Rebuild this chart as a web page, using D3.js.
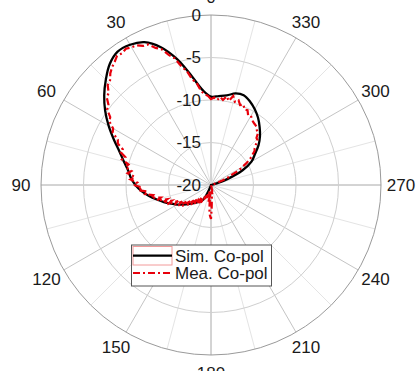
<!DOCTYPE html>
<html>
<head>
<meta charset="utf-8">
<script src="https://cdn.jsdelivr.net/npm/d3@7"></script>
<style>
  body { margin: 0; background: #fff; }
  text { font-family: "Liberation Sans", Arial, sans-serif; fill: #1a1a1a; }
</style>
</head>
<body>
<div id="polar"></div>
<script>
// angle tick labels (deg, counter-clockwise from top)
const angleTicks = [0, 30, 60, 90, 120, 150, 180, 210, 240, 270, 300, 330];
// radial ticks (dB)
const radialTicks = [-20, -15, -10, -5, 0];

// simulated co-pol, every 5 deg from 0 to 355
const simAngles = d3.range(0, 360, 5);
const simDb = [
  -9.6, -8.8, -7.0, -4.7, -2.75, -1.45, -0.95, -0.85, -1.45, -2.5,
  -3.6, -4.8, -6.1, -7.4, -8.55, -9.4, -10.1, -10.55, -11.1, -11.8,
  -12.6, -13.4, -14.1, -14.8, -15.4, -16.0, -16.5, -16.95, -17.3, -17.6,
  -17.85, -18.5, -19.8, -20, -20, -20, -20, -20, -20, -20,
  -20, -20, -20, -20, -20, -20, -20, -20, -20, -20,
  -20, -20, -20, -20, -20, -20, -20, -19.3, -17.9, -15.9,
  -14.5, -13.7, -12.7, -11.85, -11.1, -10.35, -9.7, -9.15, -8.75, -8.85,
  -9.3, -9.5
];

// measured co-pol, every 2 deg from 0 to 358
const meaAngles = d3.range(0, 360, 2);
const meaDb = [
  -9.9, -9.5, -9.3, -8.9, -7.9, -7.4, -6.3, -5.6, -4.5, -3.9,
  -3.0, -2.6, -1.9, -1.8, -1.4, -1.3, -1.1, -1.3, -1.2, -1.6,
  -1.9, -2.3, -2.9, -3.1, -3.8, -4.0, -4.7, -4.9, -5.7, -5.9,
  -6.7, -6.9, -7.8, -8.0, -8.8, -8.7, -9.4, -9.1, -10.0, -9.7,
  -10.5, -10.1, -11.0, -10.5, -11.3, -10.9, -11.9, -11.4, -12.5, -12.2,
  -13.1, -12.8, -13.9, -13.4, -14.6, -14.0, -15.0, -14.4, -15.7, -15.0,
  -16.1, -15.4, -16.5, -15.8, -16.9, -16.3, -17.3, -16.6, -17.6, -16.9,
  -17.9, -17.2, -18.1, -17.4, -18.2, -17.6, -18.4, -18.0, -18.6, -18.2,
  -18.9, -18.4, -19.0, -18.6, -19.2, -18.8, -17.9, -19.1, -17.2, -16.4,
  -16.0, -17.5, -18.6, -19.3, -18.9, -19.6, -19.2, -19.8, -20, -20,
  -20, -20, -20, -20, -20, -20, -20, -20, -20, -20,
  -20, -20, -20, -20, -20, -20, -20, -20, -20, -20,
  -20, -20, -20, -20, -20, -20, -20, -20, -20, -20,
  -20, -20, -20, -20, -20, -20, -20, -20, -20, -20,
  -20, -20, -20, -20, -19.8, -19.1, -18.5, -17.7, -17.3, -16.2,
  -15.7, -15.0, -14.4, -14.0, -13.5, -13.3, -12.9, -12.4, -12.3, -11.7,
  -11.6, -11.3, -11.2, -11.1, -10.9, -10.6, -10.7, -10.2, -10.3, -9.8,
  -10.0, -9.5, -9.8, -9.2, -9.9, -9.4, -9.9, -9.6, -10.0, -9.7
];

const seriesNames = ["Sim. Co-pol", "Mea. Co-pol"];

const width = 419, height = 371;
const cx = 211, cy = 185, R = 170;

const svg = d3.select("#polar").append("svg")
  .attr("width", width)
  .attr("height", height);

const g = svg.append("g").attr("transform", "translate(" + cx + "," + cy + ")");

const r = d3.scaleLinear().domain([-20, 0]).range([0, R]).clamp(true);
const rad = d => d * Math.PI / 180;
// d3 radial angle is clockwise from 12 o'clock; here it runs counter-clockwise
const ang = d => -rad(d);

// minor / major spokes every 15 deg
g.selectAll(".spoke")
  .data(d3.range(0, 360, 15))
  .enter().append("line")
  .attr("x1", 0).attr("y1", 0)
  .attr("x2", d => -R * Math.sin(rad(d)))
  .attr("y2", d => -R * Math.cos(rad(d)))
  .attr("stroke", d => d % 90 === 0 ? "#a8a8a8" : (d % 30 === 0 ? "#c4c4c4" : "#e4e4e4"))
  .attr("stroke-width", 1);

// grid circles
g.selectAll(".ring")
  .data(radialTicks.slice(1))
  .enter().append("circle")
  .attr("r", d => r(d))
  .attr("fill", "none")
  .attr("stroke", d => d === 0 ? "#9a9a9a" : "#cfcfcf")
  .attr("stroke-width", 1);

// radial labels
g.selectAll(".rlabel")
  .data(radialTicks)
  .enter().append("text")
  .attr("x", -10)
  .attr("y", d => -r(d))
  .attr("text-anchor", "end")
  .attr("dominant-baseline", "central")
  .style("font-size", "17px")
  .text(d => d);

// angle labels
g.selectAll(".alabel")
  .data(angleTicks)
  .enter().append("text")
  .attr("x", d => -190 * Math.sin(rad(d)))
  .attr("y", d => -188 * Math.cos(rad(d)))
  .attr("text-anchor", "middle")
  .attr("dominant-baseline", "central")
  .style("font-size", "17px")
  .text(d => d);

// simulated curve
const simLine = d3.lineRadial()
  .angle(d => ang(d[0]))
  .radius(d => r(d[1]))
  .curve(d3.curveCatmullRomClosed.alpha(0.5));

g.append("path")
  .datum(d3.zip(simAngles, simDb))
  .attr("d", simLine)
  .attr("fill", "none")
  .attr("stroke", "#000")
  .attr("stroke-width", 2.3);

// measured curve
const meaLine = d3.lineRadial()
  .angle(d => ang(d[0]))
  .radius(d => r(d[1]))
  .curve(d3.curveLinearClosed);

g.append("path")
  .datum(d3.zip(meaAngles, meaDb))
  .attr("d", meaLine)
  .attr("fill", "none")
  .attr("stroke", "#e8000b")
  .attr("stroke-width", 2.2)
  .attr("stroke-dasharray", "7,3,2,3");

// legend
const lg = svg.append("g").attr("transform", "translate(131.5,245)");
lg.append("rect")
  .attr("width", 140).attr("height", 41)
  .attr("fill", "#fff")
  .attr("stroke", "#555")
  .attr("stroke-width", 1);
lg.append("rect")
  .attr("x", 1.5).attr("y", 1.5)
  .attr("width", 39).attr("height", 18.5)
  .attr("fill", "none")
  .attr("stroke", "#f29a9a")
  .attr("stroke-width", 1);
lg.append("line")
  .attr("x1", 1.5).attr("x2", 40.5)
  .attr("y1", 10.7).attr("y2", 10.7)
  .attr("stroke", "#000").attr("stroke-width", 2.2);
lg.append("line")
  .attr("x1", 1.5).attr("x2", 40.5)
  .attr("y1", 28).attr("y2", 28)
  .attr("stroke", "#e8000b").attr("stroke-width", 2)
  .attr("stroke-dasharray", "7,3,2,3");
lg.selectAll(".ltext")
  .data(seriesNames)
  .enter().append("text")
  .attr("x", 43.5)
  .attr("y", (d, i) => i === 0 ? 11 : 28.5)
  .attr("dominant-baseline", "central")
  .style("font-size", "17px")
  .text(d => d);
</script>
</body>
</html>
